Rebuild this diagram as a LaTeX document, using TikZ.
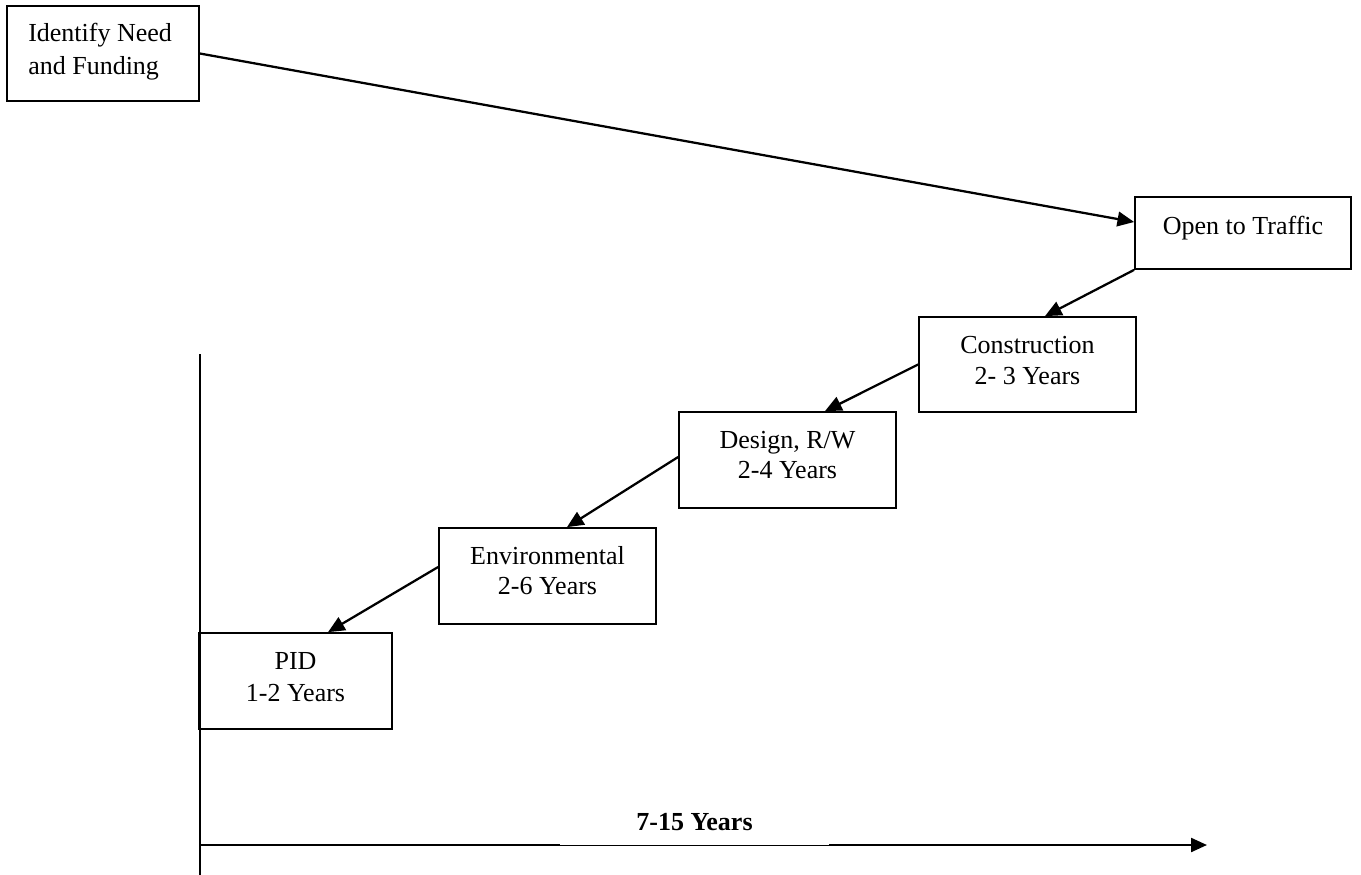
\documentclass[tikz,border=0pt]{standalone}
\usepackage{fontspec}
\setmainfont{Liberation Serif}
\usetikzlibrary{arrows.meta}
\begin{document}
\begin{tikzpicture}[x=0.75pt,y=-0.75pt,
  box/.style={draw,line width=1.3pt,inner sep=0pt,rectangle},
  txt/.style={inner sep=0pt,anchor=base,font=\fontsize{19.5pt}{24pt}\selectfont},
  conn/.style={line width=1.7pt,-{Triangle[length=12.5pt,width=11pt]}},
  axis/.style={line width=1.7pt}]
\useasboundingbox (0,0) rectangle (1361,875);
% boxes
\node[box,minimum width=144pt,minimum height=71.25pt] (ident) at (103,53.5) {};
\node[box,minimum width=162pt,minimum height=54pt] (open) at (1243,233) {};
\node[box,minimum width=162.75pt,minimum height=71.25pt] (constr) at (1027.5,364.5) {};
\node[box,minimum width=162.75pt,minimum height=72pt] (design) at (787.5,460) {};
\node[box,minimum width=162.75pt,minimum height=72pt] (env) at (547.5,576) {};
\node[box,minimum width=144.75pt,minimum height=72pt] (pid) at (295.5,681) {};
% texts
\node[txt,anchor=base west] (identa) at (28,41) {Identify Need};
\node[txt,anchor=base west] (identb) at (28,74) {and Funding};
\node[txt] (opena) at (1243,234) {Open to Traffic};
\node[txt] (constra) at (1027.5,353) {Construction};
\node[txt] (constrb) at (1027.5,384) {2- 3 Years};
\node[txt] (designa) at (787.5,448) {Design, R/W};
\node[txt] (designb) at (787.5,478) {2-4 Years};
\node[txt] (enva) at (547.5,564) {Environmental};
\node[txt] (envb) at (547.5,594) {2-6 Years};
\node[txt] (pida) at (295.5,669) {PID};
\node[txt] (pidb) at (295.5,701) {1-2 Years};
% connectors
\draw[conn] (ident.east) -- ([yshift=8.25pt]open.west);
\draw[conn] (open.south west) -- ([xshift=13.1pt]constr.north);
\draw[conn] (constr.west) -- ([xshift=28.1pt]design.north);
\draw[conn] ([yshift=2.25pt]design.west) -- ([xshift=14.6pt]env.north);
\draw[conn] ([yshift=6.75pt]env.west) -- ([xshift=24.4pt]pid.north);
% axes
\coordinate (axtop) at (200,354);
\coordinate (axbot) at (200,875);
\coordinate (origin) at (200,845);
\coordinate (axend) at (1207,845);
\draw[axis] (axtop) -- (axbot);
\draw[axis,-{Triangle[length=12pt,width=10.5pt]}] (origin) -- (axend);
\node[txt,fill=white,minimum width=201.75pt,text height=15pt,text depth=11.25pt,font=\fontsize{19.5pt}{24pt}\selectfont\bfseries] (span) at (694.5,830) {7-15 Years};
\end{tikzpicture}
\end{document}
